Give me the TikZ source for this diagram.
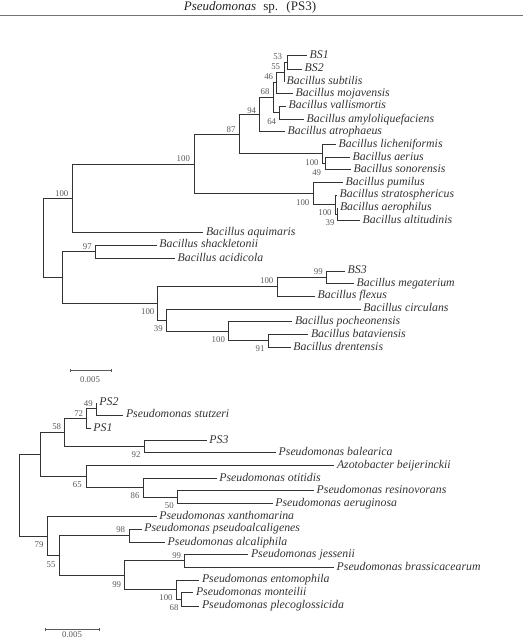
\documentclass[tikz,border=0pt]{standalone}
\usepackage{fontspec}
\setmainfont{Liberation Serif}
\usetikzlibrary{positioning}

\begin{document}
\begin{tikzpicture}[
        x=1pt, y=-1pt,
        branch/.style={black!80, line width=0.9pt},
        taxon/.style={anchor=west, inner sep=2.5pt, text height=8pt, text depth=2.5pt,
            font=\fontsize{11.8}{13}\selectfont\itshape, text=black!80},
        boot/.style={inner sep=0pt, font=\fontsize{8.8}{10}\selectfont, text=black!65},
        scalebar/.style={black!65, line width=0.7pt},
    ]
    \useasboundingbox (0,0) rectangle (523,640);

    % Header
    \node[inner sep=0pt, font=\fontsize{13}{15}\selectfont, text=black!85] (title) at (250,7.3)
        {\textit{Pseudomonas}\hspace{4pt} sp.\hspace{4pt} (PS3)};
    \draw[black!55, line width=0.8pt] (0,15) -- (523,15);

    % ---------------- Bacillus tree ----------------
    % Leaves
    \node[taxon] (bsa) at (307,55.7) {BS1};
    \node[taxon] (bsb) at (302,69) {BS2};
    \node[taxon] (subtilis) at (284,81.7) {Bacillus subtilis};
    \node[taxon] (mojavensis) at (293,93.3) {Bacillus mojavensis};
    \node[taxon] (vallismortis) at (286,106) {Bacillus vallismortis};
    \node[taxon] (amylo) at (304,119.3) {Bacillus amyloliquefaciens};
    \node[taxon] (atrophaeus) at (285,131.7) {Bacillus atrophaeus};
    \node[taxon] (licheni) at (336,144.3) {Bacillus licheniformis};
    \node[taxon] (aerius) at (350,157.3) {Bacillus aerius};
    \node[taxon] (sonorensis) at (351,169.3) {Bacillus sonorensis};
    \node[taxon] (pumilus) at (343,182.7) {Bacillus pumilus};
    \node[taxon] (strato) at (337,195) {Bacillus stratosphericus};
    \node[taxon] (aerophilus) at (337.3,207.7) {Bacillus aerophilus};
    \node[taxon] (altitudinis) at (360,220.7) {Bacillus altitudinis};
    \node[taxon] (aquimaris) at (203.3,232.3) {Bacillus aquimaris};
    \node[taxon] (shackletonii) at (156.7,245) {Bacillus shackletonii};
    \node[taxon] (acidicola) at (175,258.3) {Bacillus acidicola};
    \node[taxon] (bsc) at (345,271) {BS3};
    \node[taxon] (megaterium) at (354,283.3) {Bacillus megaterium};
    \node[taxon] (flexus) at (315,296) {Bacillus flexus};
    \node[taxon] (circulans) at (360.7,309) {Bacillus circulans};
    \node[taxon] (pocheon) at (292.3,321.7) {Bacillus pocheonensis};
    \node[taxon] (batav) at (308.3,334.3) {Bacillus bataviensis};
    \node[taxon] (drent) at (290.7,347.3) {Bacillus drentensis};

    % Internal nodes
    \coordinate (nBS) at (287,62.35);
    \coordinate (nSub) at (284,72);
    \coordinate (nMoj) at (276.7,82.65);
    \coordinate (nVal) at (279.3,112.65);
    \coordinate (nSubVal) at (273.3,97.65);
    \coordinate (nAtr) at (259.3,114.7);
    \coordinate (nAer) at (325,163.3);
    \coordinate (nLic) at (322,153.8);
    \coordinate (nSubLic) at (239,134.25);
    \coordinate (nAlt) at (337.3,214.2);
    \coordinate (nStr) at (335.7,204.6);
    \coordinate (nPum) at (313.3,193.65);
    \coordinate (nSubPum) at (194.3,163.95);
    \coordinate (nAqu) at (72.7,198.1);
    \coordinate (nSha) at (95,251.65);
    \coordinate (nMeg) at (326.7,277.15);
    \coordinate (nFle) at (277.7,286.6);
    \coordinate (nBat) at (268.3,340.8);
    \coordinate (nPoc) at (228.3,331.25);
    \coordinate (nCir) at (166,320.1);
    \coordinate (nMegCir) at (157.7,303.35);
    \coordinate (nShaMeg) at (62.3,277.5);
    \coordinate (nRootB) at (43.3,237.8);

    % Branches
    \foreach \p/\c in {nBS/bsa, nBS/bsb, nSub/nBS, nSub/subtilis, nMoj/nSub, nMoj/mojavensis,
            nVal/vallismortis, nVal/amylo, nSubVal/nMoj, nSubVal/nVal, nAtr/nSubVal, nAtr/atrophaeus,
            nAer/aerius, nAer/sonorensis, nLic/licheni, nLic/nAer, nSubLic/nAtr, nSubLic/nLic,
            nAlt/aerophilus, nAlt/altitudinis, nStr/strato, nStr/nAlt, nPum/pumilus, nPum/nStr,
            nSubPum/nSubLic, nSubPum/nPum, nAqu/nSubPum, nAqu/aquimaris,
            nSha/shackletonii, nSha/acidicola, nMeg/bsc, nMeg/megaterium, nFle/nMeg, nFle/flexus,
            nBat/batav, nBat/drent, nPoc/pocheon, nPoc/nBat, nCir/circulans, nCir/nPoc,
            nMegCir/nFle, nMegCir/nCir, nShaMeg/nSha, nShaMeg/nMegCir, nRootB/nAqu, nRootB/nShaMeg}
        \draw[branch] (\p) |- (\c);

    % Bootstrap values
    \node[boot] (bBS) at (277.7,56.7) {53};
    \node[boot] (bSub) at (275.7,66.7) {55};
    \node[boot] (bMoj) at (268.7,77) {46};
    \node[boot] (bSubVal) at (265,91.7) {68};
    \node[boot] (bVal) at (271.7,121.7) {64};
    \node[boot] (bAtr) at (251.7,110.7) {94};
    \node[boot] (bSubLic) at (231,129.3) {87};
    \node[boot] (bAer) at (312,162.3) {100};
    \node[boot] (bLic) at (316.7,172.7) {49};
    \node[boot] (bSubPum) at (183.3,158.3) {100};
    \node[boot] (bPum) at (302.7,202.3) {100};
    \node[boot] (bStr) at (325,212.7) {100};
    \node[boot] (bAlt) at (330,222.3) {39};
    \node[boot] (bAqu) at (61.7,193.3) {100};
    \node[boot] (bSha) at (87.3,246.7) {97};
    \node[boot] (bMeg) at (318.3,271.7) {99};
    \node[boot] (bFle) at (266.7,281) {100};
    \node[boot] (bMegCir) at (147.7,311.7) {100};
    \node[boot] (bCir) at (158.3,329) {39};
    \node[boot] (bPoc) at (218.3,339.3) {100};
    \node[boot] (bBat) at (260,349) {91};

    % Scale bar
    \coordinate (sbA) at (70,370.7);
    \coordinate (sbB) at (111,370.7);
    \draw[scalebar] (sbA) -- (sbB);
    \draw[scalebar] ([yshift=1.5pt]sbA) -- ([yshift=-1.5pt]sbA);
    \draw[scalebar] ([yshift=1.5pt]sbB) -- ([yshift=-1.5pt]sbB);
    \node[boot] (sbLabA) at (90,379.5) {0.005};

    % ---------------- Pseudomonas tree ----------------
    % Leaves
    \node[taxon] (psb) at (96.7,402.7) {PS2};
    \node[taxon] (stutzeri) at (123.3,415) {Pseudomonas stutzeri};
    \node[taxon] (psa) at (90.7,428.3) {PS1};
    \node[taxon] (psc) at (206.7,440.7) {PS3};
    \node[taxon] (balearica) at (276,452.7) {Pseudomonas balearica};
    \node[taxon] (azoto) at (334.3,465.7) {Azotobacter beijerinckii};
    \node[taxon] (otitidis) at (216.7,478.3) {Pseudomonas otitidis};
    \node[taxon] (resino) at (314,490.7) {Pseudomonas resinovorans};
    \node[taxon] (aerug) at (272.7,503.3) {Pseudomonas aeruginosa};
    \node[taxon] (xantho) at (156.7,516.7) {Pseudomonas xanthomarina};
    \node[taxon] (pseudoalc) at (141.7,529) {Pseudomonas pseudoalcaligenes};
    \node[taxon] (alcali) at (165,542.3) {Pseudomonas alcaliphila};
    \node[taxon] (jessenii) at (248.3,554.3) {Pseudomonas jessenii};
    \node[taxon] (brassica) at (334,567.3) {Pseudomonas brassicacearum};
    \node[taxon] (entomo) at (199.3,580) {Pseudomonas entomophila};
    \node[taxon] (monteilii) at (193.3,592.3) {Pseudomonas monteilii};
    \node[taxon] (pleco) at (199.3,606) {Pseudomonas plecoglossicida};

    % Internal nodes
    \coordinate (mPS) at (96.7,408.85);
    \coordinate (mPSa) at (86.7,418.6);
    \coordinate (mBal) at (144.3,446.7);
    \coordinate (mPSBal) at (64,432.65);
    \coordinate (mAer) at (177.7,497);
    \coordinate (mOti) at (143.3,487.65);
    \coordinate (mAzo) at (86,476.7);
    \coordinate (mUp) at (40,454.7);
    \coordinate (mAlc) at (129,535.65);
    \coordinate (mJes) at (184.3,560.8);
    \coordinate (mMon) at (181.7,599.15);
    \coordinate (mEnt) at (176.7,589.6);
    \coordinate (mJesEnt) at (124.3,575.2);
    \coordinate (mAlcJes) at (59.3,555.4);
    \coordinate (mXan) at (47.7,536.05);
    \coordinate (mRootP) at (19,495.4);

    % Branches
    \foreach \p/\c in {mPS/psb, mPS/stutzeri, mPSa/mPS, mPSa/psa, mBal/psc, mBal/balearica,
            mPSBal/mPSa, mPSBal/mBal, mAer/resino, mAer/aerug, mOti/otitidis, mOti/mAer,
            mAzo/azoto, mAzo/mOti, mUp/mPSBal, mUp/mAzo, mAlc/pseudoalc, mAlc/alcali,
            mJes/jessenii, mJes/brassica, mMon/monteilii, mMon/pleco, mEnt/entomo, mEnt/mMon,
            mJesEnt/mJes, mJesEnt/mEnt, mAlcJes/mAlc, mAlcJes/mJesEnt, mXan/xantho, mXan/mAlcJes,
            mRootP/mUp, mRootP/mXan}
        \draw[branch] (\p) |- (\c);

    % Bootstrap values
    \node[boot] (bPS) at (88.3,403.3) {49};
    \node[boot] (bPSa) at (78.7,413.3) {72};
    \node[boot] (bPSBal) at (56.7,426.7) {58};
    \node[boot] (bBal) at (136,455) {92};
    \node[boot] (bAzo) at (77.3,485) {65};
    \node[boot] (bOti) at (135,496) {86};
    \node[boot] (bAerP) at (169.3,506) {50};
    \node[boot] (bXan) at (39,545) {79};
    \node[boot] (bAlcJes) at (51,564.3) {55};
    \node[boot] (bAlc) at (120.7,529.3) {98};
    \node[boot] (bJes) at (176.7,556) {99};
    \node[boot] (bJesEnt) at (116.7,585) {99};
    \node[boot] (bEnt) at (166,597.7) {100};
    \node[boot] (bMon) at (174,607.3) {68};

    % Scale bar
    \coordinate (sbC) at (45.7,629.3);
    \coordinate (sbD) at (99.3,629.3);
    \draw[scalebar] (sbC) -- (sbD);
    \draw[scalebar] ([yshift=1.5pt]sbC) -- ([yshift=-1.5pt]sbC);
    \draw[scalebar] ([yshift=1.5pt]sbD) -- ([yshift=-1.5pt]sbD);
    \node[boot] (sbLabB) at (72,635) {0.005};
\end{tikzpicture}
\end{document}
